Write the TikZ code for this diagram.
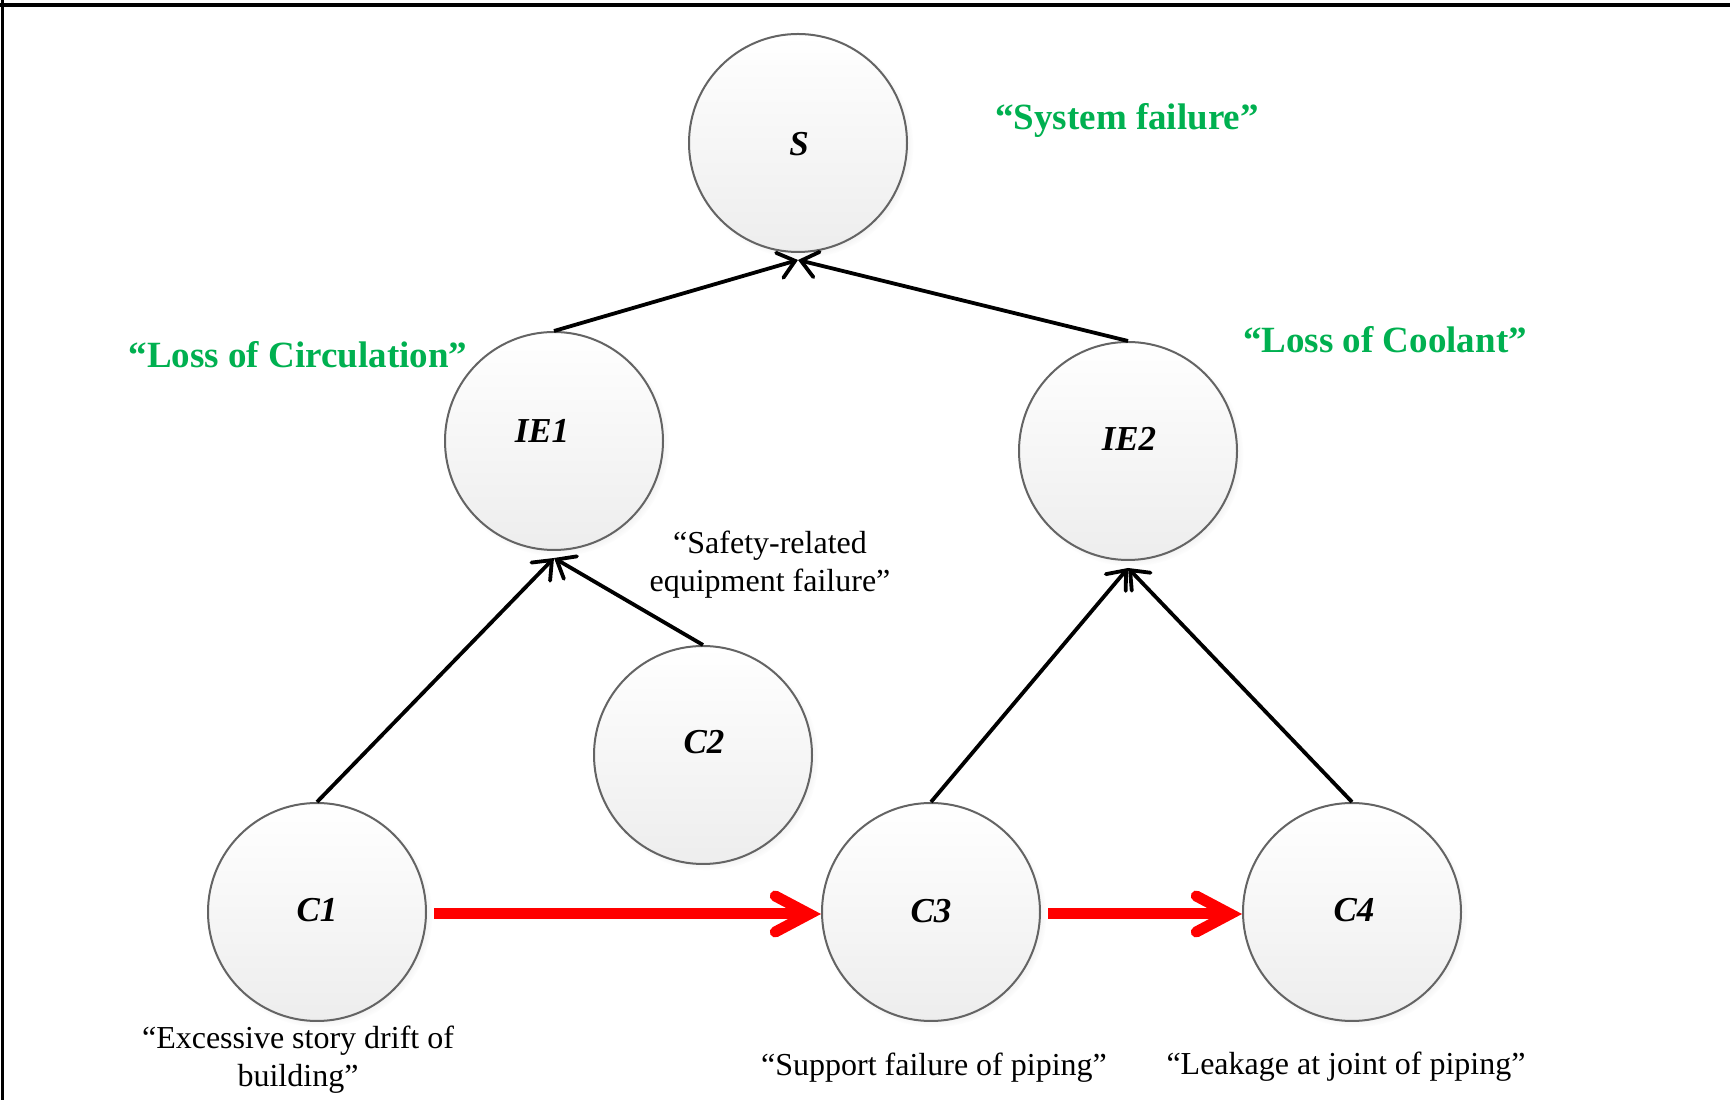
\documentclass[tikz,border=0pt]{standalone}
\usepackage{fontspec}
\setmainfont{Liberation Serif}
\usetikzlibrary{arrows.meta,shadows}
\definecolor{labelgreen}{RGB}{0,176,80}
\definecolor{eventedge}{RGB}{100,100,100}
\begin{document}
\begin{tikzpicture}[x=1pt,y=1pt,
  event/.style={circle, minimum size=218pt, inner sep=0pt, draw=eventedge,
    line width=2pt, top color=white, bottom color=black!7,
    circular drop shadow={shadow xshift=3pt, shadow yshift=-3pt,
      shadow scale=1.03, opacity=0.2}},
  eventname/.style={font=\fontsize{35}{40}\selectfont\bfseries\itshape},
  caption/.style={font=\fontsize{32}{38}\selectfont, align=center},
  headline/.style={font=\fontsize{37}{42}\selectfont\bfseries, text=labelgreen},
  link/.style={line width=3.8pt,
    -{Straight Barb[length=16pt,width=26pt,line cap=round]}},
  chain/.style={draw=red, line width=11pt,
    -{Straight Barb[length=34pt,width=36pt,line cap=round]}}]

\useasboundingbox (0,0) rectangle (1730,1100);
\fill[white] (0,0) rectangle (1730,1100);

% frame
\draw[line width=3.5pt] (0,1095) -- (1730,1095);
\draw[line width=3pt] (2.5,0) -- (2.5,1100);

% events
\node[event] (S)   at (798,957) {};
\node[event] (IE1) at (554,659) {};
\node[event] (IE2) at (1128,649) {};
\node[event] (C2)  at (703,345) {};
\node[event] (C1)  at (317,188) {};
\node[event] (C3)  at (931,188) {};
\node[event] (C4)  at (1352,188) {};

\node[eventname] (St)   at (799,956)  {S};
\node[eventname] (IE1t) at (542,669)  {IE1};
\node[eventname] (IE2t) at (1129,661) {IE2};
\node[eventname] (C2t)  at (704,358)  {C2};
\node[eventname] (C1t)  at (317,190)  {C1};
\node[eventname] (C3t)  at (931,189)  {C3};
\node[eventname] (C4t)  at (1354,190) {C4};

% headlines
\node[headline] (hS)   at (1127,980) {“System failure”};
\node[headline] (hIE1) at (298,745)  {“Loss of Circulation”};
\node[headline] (hIE2) at (1385,760) {“Loss of Coolant”};

% captions
\node[caption] (cC2) at (770,535) {“Safety-related\\equipment failure”};
\node[caption] (cC1) at (298,40)  {“Excessive story drift of\\building”};
\node[caption] (cC3) at (934,32)  {“Support failure of piping”};
\node[caption] (cC4) at (1346,33) {“Leakage at joint of piping”};

% fault tree connectors
\draw[link] (IE1.north) -- ([yshift=-7pt]S.south);
\draw[link] (IE2.north) -- ([yshift=-7pt]S.south);
\draw[link] (C1.north) -- ([yshift=-7pt]IE1.south);
\draw[link] (C2.north) -- ([yshift=-7pt]IE1.south);
\draw[link] (C3.north) -- ([yshift=-7pt]IE2.south);
\draw[link] (C4.north) -- ([yshift=-7pt]IE2.south);

% propagation chain
\draw[chain] ([xshift=7pt,yshift=-2pt]C1.east) -- ([yshift=-2pt]C3.west);
\draw[chain] ([xshift=7pt,yshift=-2pt]C3.east) -- ([yshift=-2pt]C4.west);
\end{tikzpicture}
\end{document}
